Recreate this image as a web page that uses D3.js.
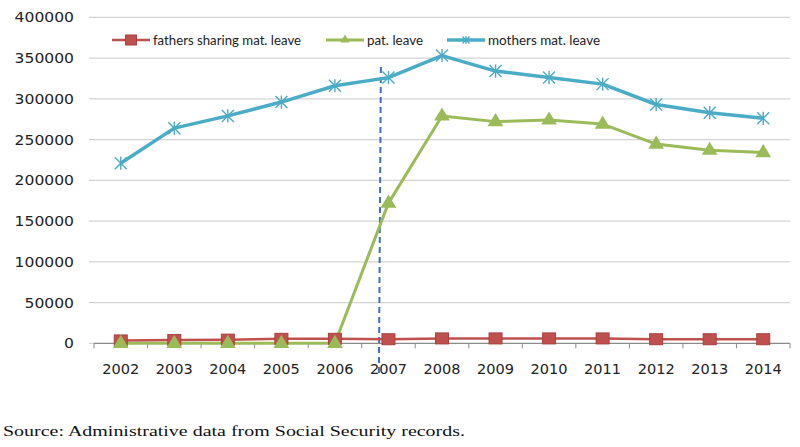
<!DOCTYPE html>
<html><head><meta charset="utf-8">
<script src="https://cdn.jsdelivr.net/npm/d3@7"></script>
<style>body{margin:0;background:#fff}</style>
</head><body>
<svg id="c" width="800" height="447"></svg>
<script>
const years = ["2002","2003","2004","2005","2006","2007","2008","2009","2010","2011","2012","2013","2014"];
const fathersSharing = [3500,4000,4500,5500,5500,5000,6000,6000,6000,6000,5000,5000,5000];
const patLeave = [0,0,0,0,0,172000,279000,272000,274000,269000,244500,237000,234000];
const mothersLeave = [221000,264000,279000,296000,316000,326000,353000,334000,326000,318000,293000,283000,276000];
const yTicks = [0,50000,100000,150000,200000,250000,300000,350000,400000];
const seriesNames = ["fathers sharing mat. leave","pat. leave","mothers mat. leave"];
const reformYear = "2007";
const sourceText = "Source: Administrative data from Social Security records.";

const svg = d3.select("#c");
const x = d3.scaleBand().domain(years).range([94,790]).padding(0);
const y = d3.scaleLinear().domain([0,400000]).range([343.3,17.3]);
const cx = d => x(d) + x.bandwidth()/2;
const font = "'DejaVu Sans', sans-serif";

// gridlines
svg.append("g").selectAll("line").data(yTicks.filter(t=>t>0)).join("line")
  .attr("x1",94).attr("x2",790).attr("y1",d=>y(d)).attr("y2",d=>y(d))
  .attr("stroke","#d4d4d4").attr("stroke-width",1.3);

// y labels
svg.append("g").selectAll("text").data(yTicks).join("text")
  .attr("x",74).attr("y",d=>y(d)+5).attr("text-anchor","end")
  .attr("font-family",font).attr("font-size",14.5).attr("fill","#222")
  .each(function(d){ const s=String(d); d3.select(this).text(s).attr("textLength", s.length*9.9).attr("lengthAdjust","spacingAndGlyphs"); });
// little tick at left of gridlines
svg.append("g").selectAll("line").data(yTicks).join("line")
  .attr("x1",89).attr("x2",94).attr("y1",d=>y(d)).attr("y2",d=>y(d))
  .attr("stroke","#c8c8c8").attr("stroke-width",1);

// x axis
const xAxis = svg.append("g");
xAxis.append("line").attr("x1",94).attr("x2",790).attr("y1",y(0)).attr("y2",y(0))
  .attr("stroke","#8a8a8a").attr("stroke-width",1.3);
const bounds = years.map(d=>x(d)).concat([x(years[years.length-1])+x.bandwidth()]);
xAxis.selectAll("line.t").data(bounds).join("line").attr("class","t")
  .attr("x1",d=>d).attr("x2",d=>d).attr("y1",y(0)).attr("y2",y(0)+5)
  .attr("stroke","#8a8a8a").attr("stroke-width",1);
xAxis.selectAll("text").data(years).join("text")
  .attr("x",d=>cx(d)).attr("y",374).attr("text-anchor","middle")
  .attr("font-family",font).attr("font-size",14.5).attr("fill","#222")
  .text(d=>d).attr("textLength",37).attr("lengthAdjust","spacingAndGlyphs");

// dashed reform line
const rx = x(reformYear) + x.bandwidth()*0.34;
svg.append("line").attr("x1",rx+1).attr("x2",rx-1).attr("y1",67).attr("y2",374)
  .attr("stroke","#3f6fc0").attr("stroke-width",2).attr("stroke-dasharray","6,4");

const line = d3.line().x((d,i)=>cx(years[i])).y(d=>y(d));
const colors = {red:"#C0504D", redDark:"#A8403D", green:"#9BBB59", blue:"#4BACC6"};

// mothers (blue)
svg.append("path").datum(mothersLeave).attr("d",line).attr("fill","none")
  .attr("stroke",colors.blue).attr("stroke-width",3.5).attr("stroke-linejoin","round");
function star(g, X, Y, s){
  g.append("path").attr("d",`M${X-s},${Y-s}L${X+s},${Y+s}M${X-s},${Y+s}L${X+s},${Y-s}M${X},${Y-s*1.1}L${X},${Y+s*1.1}`)
   .attr("stroke",colors.blue).attr("stroke-width",1.4).attr("fill","none");
}
const gb = svg.append("g");
mothersLeave.forEach((v,i)=>star(gb,cx(years[i]),y(v),6));

// pat (green)
svg.append("path").datum(patLeave).attr("d",line).attr("fill","none")
  .attr("stroke",colors.green).attr("stroke-width",3).attr("stroke-linejoin","round");
const tri = (X,Y,s)=>`M${X},${Y-s}L${X+s*1.05},${Y+s*0.75}L${X-s*1.05},${Y+s*0.75}Z`;

// fathers (red)
svg.append("path").datum(fathersSharing).attr("d",line).attr("fill","none")
  .attr("stroke",colors.red).attr("stroke-width",2.5);
svg.append("g").selectAll("rect").data(fathersSharing).join("rect")
  .attr("x",(d,i)=>cx(years[i])-6.5).attr("y",d=>y(d)-5.5).attr("width",13).attr("height",11)
  .attr("fill",colors.red).attr("stroke",colors.redDark).attr("stroke-width",1);
svg.append("g").selectAll("path").data(patLeave).join("path")
  .attr("d",(d,i)=>tri(cx(years[i]),y(d)-1,7.5)).attr("fill",colors.green);

// legend
const lg = svg.append("g");
const legendItems = [
  {name:seriesNames[0], x0:112, tx:153, w:148, kind:"sq", c:colors.red, sw:2.5},
  {name:seriesNames[1], x0:326, tx:367, w:56, kind:"tri", c:colors.green, sw:3},
  {name:seriesNames[2], x0:447, tx:488, w:112, kind:"star", c:colors.blue, sw:3.5}
];
const ly = 40;
legendItems.forEach(it=>{
  lg.append("line").attr("x1",it.x0).attr("x2",it.x0+38).attr("y1",ly).attr("y2",ly)
    .attr("stroke",it.c).attr("stroke-width",it.sw);
  const mx = it.x0+19;
  if(it.kind==="sq") lg.append("rect").attr("x",mx-5.5).attr("y",ly-5).attr("width",11).attr("height",10).attr("fill",it.c).attr("stroke",colors.redDark);
  if(it.kind==="tri") lg.append("path").attr("d",tri(mx,ly-1,4.5)).attr("fill",it.c);
  if(it.kind==="star") star(lg,mx,ly,3.5);
  lg.append("text").attr("x",it.tx).attr("y",ly+4.5).attr("font-family","Lato, 'Open Sans', sans-serif")
    .attr("font-size",13.5).attr("fill","#222").text(it.name)
    .attr("textLength",it.w).attr("lengthAdjust","spacingAndGlyphs");
});

// source
svg.append("text").attr("x",3).attr("y",436).attr("font-family","'Liberation Serif', serif")
  .attr("font-size",15.5).attr("fill","#111").text(sourceText)
  .attr("textLength",462).attr("lengthAdjust","spacingAndGlyphs");
</script>
</body></html>
